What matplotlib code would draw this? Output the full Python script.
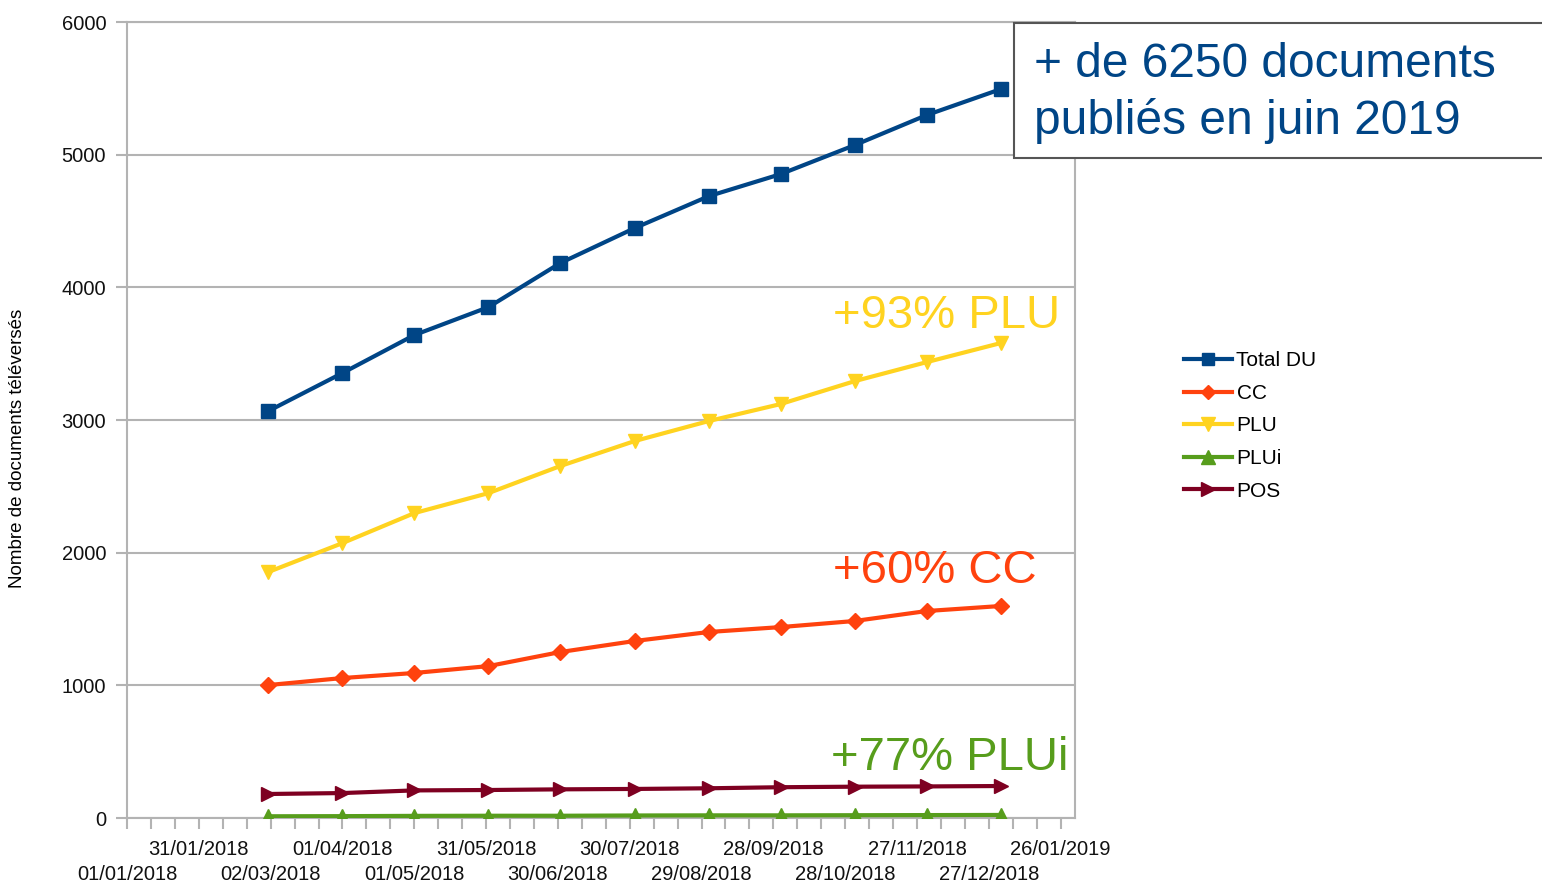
import datetime as dt
import matplotlib
matplotlib.use("Agg")
import matplotlib.pyplot as plt
from matplotlib.patches import Rectangle

plt.rcParams['font.family'] = ['Liberation Sans', 'DejaVu Sans']

# Data (monthly counts)
months = [dt.date(2018, m, 1) for m in range(3, 13)] + [dt.date(2019, 1, 1)]
total_du = [3067, 3354, 3640, 3851, 4183, 4446, 4687, 4853, 5072, 5298, 5494]
cc = [1002, 1055, 1093, 1145, 1251, 1334, 1402, 1439, 1485, 1560, 1598]
plu = [1854, 2072, 2298, 2449, 2653, 2841, 2992, 3120, 3293, 3436, 3580]
plui = [13, 14, 16, 17, 17, 19, 20, 20, 21, 22, 23]
pos = [181, 188, 208, 211, 216, 219, 224, 232, 236, 238, 241]

series = [
    ("Total DU", total_du, "#004586", "s", 10),
    ("CC", cc, "#ff420e", "D", 8),
    ("PLU", plu, "#ffd320", "v", 10.5),
    ("PLUi", plui, "#579d1c", "^", 10.5),
    ("POS", pos, "#7e0021", ">", 10.5),
]

# x tick dates: every 30 days from 01/01/2018
start = dt.date(2018, 1, 1)
tick_dates = [start + dt.timedelta(days=30 * i) for i in range(14)]
minor_dates = [start + dt.timedelta(days=10 * i) for i in range(40)]
tick_labels = [d.strftime("%d/%m/%Y") for d in tick_dates]

fig = plt.figure(figsize=(15.42, 8.83), dpi=100)
ax = fig.add_axes([127 / 1542, 65 / 883, 948 / 1542, 796 / 883])

for name, vals, col, mk, ms in series:
    ax.plot(months, vals, color=col, lw=3, marker=mk, markersize=ms,
            label=name, zorder=3)

ax.set_ylim(0, 6000)
ax.set_xlim(start, dt.date(2019, 2, 1))
ax.set_yticks(range(0, 6001, 1000))
ax.yaxis.grid(True, color="#b3b3b3", lw=1.5, zorder=0)
ax.set_axisbelow(True)

ax.set_xticks(tick_dates)
ax.set_xticklabels(tick_labels)
ax.set_xticks(minor_dates, minor=True)

ax.tick_params(axis="both", which="both", color="#b3b3b3", width=1.5,
               length=8, labelsize=14.5, labelcolor="#111111")
ax.tick_params(axis="y", pad=7)
# staggered x labels: two rows
for i, tick in enumerate(ax.xaxis.get_major_ticks()):
    tick.set_pad(8 if i % 2 else 26)
for s in ax.spines.values():
    s.set_color("#b3b3b3")
    s.set_linewidth(1.5)

fig.text(18 / 1542, 1 - 448 / 883, "Nombre de documents téléversés",
         rotation=90, ha="center", va="center", fontsize=13.5)

ax.legend(loc="center left", bbox_to_anchor=(1174 / 1542, 1 - 426 / 883),
          bbox_transform=fig.transFigure, frameon=False, fontsize=15,
          handlelength=2.3, handletextpad=0.2, labelspacing=0.65,
          borderpad=0, markerscale=0.9)

# Percent call-outs
fig.text(833 / 1542, 1 - 316 / 883, "+93% PLU", color="#ffd320",
         fontsize=34, va="center")
fig.text(833 / 1542, 1 - 571 / 883, "+60% CC", color="#ff420e",
         fontsize=34, va="center")
fig.text(831 / 1542, 1 - 758 / 883, "+77% PLUi", color="#579d1c",
         fontsize=34, va="center")

# Highlight box
box = Rectangle((1014 / 1542, 1 - 158 / 883), 600 / 1542, 135 / 883,
                transform=fig.transFigure, facecolor="white",
                edgecolor="#555555", lw=1.5, zorder=5)
fig.add_artist(box)
fig.text(1034 / 1542, 1 - 93 / 883, "+ de 6250 documents\npubliés en juin 2019",
         color="#004586", fontsize=34.5, va="center", linespacing=1.33,
         zorder=6)

plt.savefig("out.png", dpi=100)
